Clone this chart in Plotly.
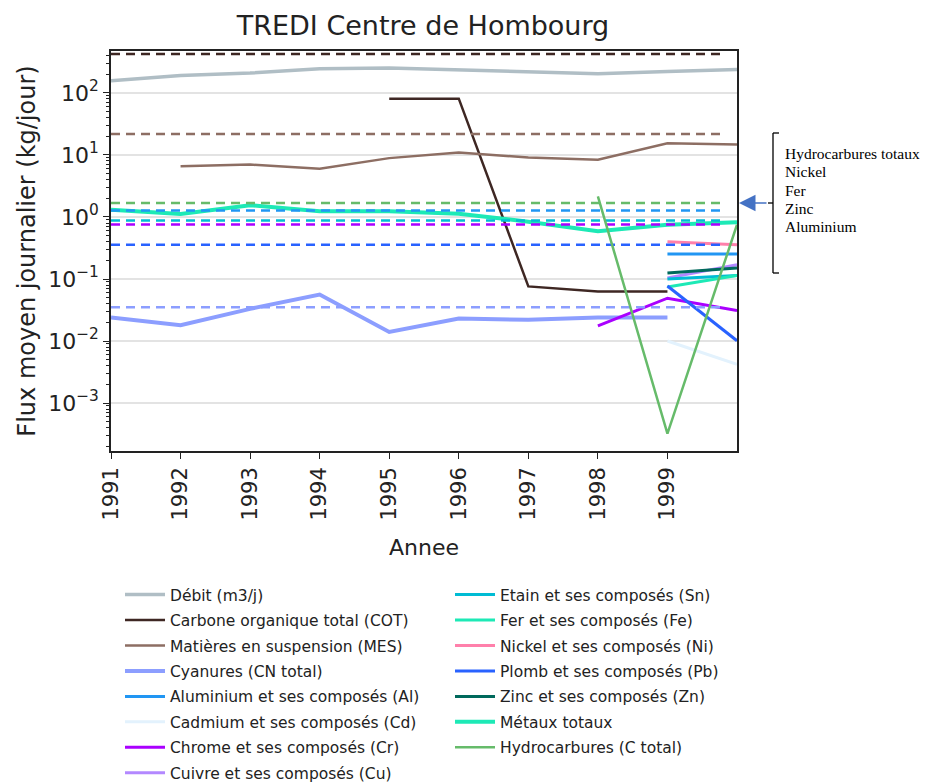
import plotly.graph_objects as go

years = [1991, 1992, 1993, 1994, 1995, 1996, 1997, 1998, 1999, 2000]

debit = [158, 191, 210, 245, 253, 238, 222, 205, 222, 240]
cot = [None, None, None, None, 81, 81, 0.076, 0.063, 0.063, None]
mes = [None, 6.6, 7.0, 6.0, 8.9, 11, 9.1, 8.4, 15.4, 14.7]
cyanures = [0.024, 0.018, 0.033, 0.056, 0.014, 0.023, 0.022, 0.024, 0.024, None]
aluminium = [None] * 8 + [0.253, 0.253]
cadmium = [None] * 8 + [0.010, 0.0042]
chrome = [None] * 7 + [0.0176, 0.049, 0.031]
cuivre = [None] * 8 + [0.104, 0.17]
etain = [None] * 8 + [0.10, 0.114]
fer = [None] * 8 + [0.074, 0.114]
nickel = [None] * 8 + [0.40, 0.357]
plomb = [None] * 8 + [0.077, 0.0101]
zinc = [None] * 8 + [0.125, 0.15]
metaux = [1.31, 1.12, 1.55, 1.24, 1.24, 1.13, 0.84, 0.59, 0.75, 0.82]
hydro = [None] * 7 + [2.15, 0.00032, 0.75]

# limit values (dashed)
limit_names = ["COT", "MES", "Hydrocarbures", "Aluminium", "Etain", "Chrome", "Plomb", "Cyanures"]
limit_values = [427, 21.8, 1.68, 1.27, 0.88, 0.76, 0.357, 0.035]
limit_colors = ["#3e2723", "#8d6e63", "#66bb6a", "#2196f3", "#00bcd4", "#aa00ff", "#2962ff", "#8c9eff"]
limit_x = [1991, 1999.82]

y_tickvals = [1e-3, 1e-2, 1e-1, 1, 10, 100]
y_ticktext = ["10<sup>−3</sup>", "10<sup>−2</sup>", "10<sup>−1</sup>",
              "10<sup>0</sup>", "10<sup>1</sup>", "10<sup>2</sup>"]

note_lines = ["Hydrocarbures totaux", "Nickel", "Fer", "Zinc", "Aluminium"]

series_col1 = [
    ("Débit (m3/j)", debit, "#b0bec5", 3.5),
    ("Carbone organique total (COT)", cot, "#3e2723", 2.5),
    ("Matières en suspension (MES)", mes, "#8d6e63", 2.5),
    ("Cyanures (CN total)", cyanures, "#8c9eff", 4),
    ("Aluminium et ses composés (Al)", aluminium, "#2196f3", 3),
    ("Cadmium et ses composés (Cd)", cadmium, "#e3f2fd", 3),
    ("Chrome et ses composés (Cr)", chrome, "#aa00ff", 3),
    ("Cuivre et ses composés (Cu)", cuivre, "#b388ff", 3),
]
series_col2 = [
    ("Etain et ses composés (Sn)", etain, "#00bcd4", 3),
    ("Fer et ses composés (Fe)", fer, "#1de9b6", 3),
    ("Nickel et ses composés (Ni)", nickel, "#ff80ab", 3),
    ("Plomb et ses composés (Pb)", plomb, "#2962ff", 3),
    ("Zinc et ses composés (Zn)", zinc, "#00695c", 3),
    ("Métaux totaux", metaux, "#1de9b6", 4),
    ("Hydrocarbures (C total)", hydro, "#66bb6a", 2.5),
]

fig = go.Figure()

for i, (name, vals, col, w) in enumerate(series_col1):
    fig.add_trace(go.Scatter(x=years, y=vals, mode="lines", name=name,
                             line=dict(color=col, width=w),
                             legend="legend", legendgroup="a%d" % i))
for i, (name, vals, col, w) in enumerate(series_col2):
    if name.startswith("Hydrocarbures"):
        continue
    fig.add_trace(go.Scatter(x=years, y=vals, mode="lines", name=name,
                             line=dict(color=col, width=w),
                             legend="legend2", legendgroup="b%d" % i))

for nm, v, c in zip(limit_names, limit_values, limit_colors):
    fig.add_trace(go.Scatter(x=limit_x, y=[v, v], mode="lines", showlegend=False,
                             line=dict(color=c, width=2.5, dash="9px,6px"), hoverinfo="skip"))

name, vals, col, w = series_col2[-1]
fig.add_trace(go.Scatter(x=years, y=vals, mode="lines", name=name,
                         line=dict(color=col, width=w),
                         legend="legend2", legendgroup="b6"))

W, H = 925, 783
L, R, T, B = 111, 737, 51, 451


def px(x):
    return (x - L) / (R - L)


def py(y):
    return (B - y) / (B - T)


font = "DejaVu Sans"
fig.update_layout(
    width=W, height=H,
    margin=dict(l=L, r=W - R, t=T, b=H - B, autoexpand=False),
    paper_bgcolor="white", plot_bgcolor="white",
    font=dict(family=font, color="#222"),
    title=dict(text="TREDI Centre de Hombourg", x=423 / W, xanchor="center",
               y=1 - 26 / H, yanchor="middle", font=dict(size=27, family=font, color="#222")),
    xaxis=dict(range=[1991, 2000], tickvals=years[:-1], ticktext=[str(y) for y in years[:-1]],
               tickangle=-90, tickfont=dict(size=21), ticks="outside", ticklen=6, tickwidth=1.3,
               tickcolor="#222", showline=True, linecolor="#222", linewidth=1.5, mirror=True,
               showgrid=False, zeroline=False,
               title=dict(text="Annee", font=dict(size=22), standoff=20)),
    yaxis=dict(type="log", range=[-3.774, 2.677], tickvals=y_tickvals, ticktext=y_ticktext,
               tickfont=dict(size=22), ticks="outside", ticklen=6, tickwidth=1.3, tickcolor="#222",
               showline=True, linecolor="#222", linewidth=1.5, mirror=True,
               showgrid=True, gridcolor="#e3e3e3", gridwidth=1.5, zeroline=False,
               minor=dict(ticks="outside", ticklen=3, tickcolor="#222", dtick="D1", showgrid=False),
               title=dict(text="Flux moyen journalier (kg/jour)", font=dict(size=24), standoff=6)),
    legend=dict(x=px(120), y=py(578), xanchor="left", yanchor="top", orientation="v",
                font=dict(size=15.5, color="#222"), bgcolor="rgba(0,0,0,0)",
                traceorder="grouped", tracegroupgap=2.3, itemwidth=40),
    legend2=dict(x=px(450), y=py(578), xanchor="left", yanchor="top", orientation="v",
                 font=dict(size=15.5, color="#222"), bgcolor="rgba(0,0,0,0)",
                 traceorder="grouped", tracegroupgap=2.3, itemwidth=40),
)

# bracket on the right
bx = 773
shapes = [
    dict(type="line", xref="paper", yref="paper", x0=px(bx), x1=px(bx), y0=py(133), y1=py(273)),
    dict(type="line", xref="paper", yref="paper", x0=px(bx), x1=px(bx + 6), y0=py(133), y1=py(133)),
    dict(type="line", xref="paper", yref="paper", x0=px(bx), x1=px(bx + 6), y0=py(273), y1=py(273)),
    dict(type="line", xref="paper", yref="paper", x0=px(bx - 5), x1=px(bx), y0=py(203), y1=py(203)),
]
for s in shapes:
    s["line"] = dict(color="black", width=1.3)
fig.update_layout(shapes=shapes)

fig.add_annotation(x=px(739), y=py(203), xref="paper", yref="paper", text="",
                   showarrow=True, ax=29, ay=0, arrowhead=2, arrowsize=2.2, arrowwidth=1.5,
                   arrowcolor="#4472c4")
for i, line in enumerate(note_lines):
    fig.add_annotation(x=px(783), y=py(153.3 + 18.4 * i), xref="paper", yref="paper",
                       xanchor="left", yanchor="middle", align="left", showarrow=False,
                       text=line, font=dict(family="Liberation Serif", size=15.5, color="black"))

fig.write_html("out.html", config={"displayModeBar": False},
               post_script="document.body.style.margin='0';")
